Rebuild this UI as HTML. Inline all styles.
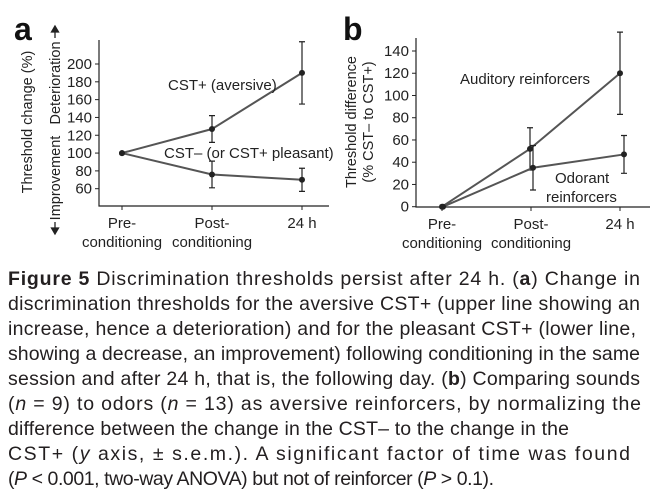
<!DOCTYPE html>
<html><head><meta charset="utf-8"><style>
html,body{margin:0;padding:0;background:#fff;}
svg{display:block;font-family:"Liberation Sans",Arial,sans-serif;}
</style></head><body>
<svg id="fig" width="667" height="491" viewBox="0 0 667 491">
<g id="pa"></g>
<g id="pb"></g>
<g id="cap" fill="#231f20" font-size="19.5"></g>
</svg>
<script>
const categories = ["Pre-|conditioning", "Post-|conditioning", "24 h"];
const aTicks = [60, 80, 100, 120, 140, 160, 180, 200];
const aAversive = [100, 127, 190];
const aAversiveErr = [0, 15, 35];
const aPleasant = [100, 76, 70];
const aPleasantErr = [0, 15, 13];
const bTicks = [0, 20, 40, 60, 80, 100, 120, 140];
const bAuditory = [0, 52, 120];
const bAuditoryErr = [0, 19, 37];
const bOdorant = [0, 35, 47];
const bOdorantErr = [0, 20, 17];

const NS = "http://www.w3.org/2000/svg";
function mk(parent, tag, attrs, text) {
  const e = document.createElementNS(NS, tag);
  for (const k in attrs) e.setAttribute(k, attrs[k]);
  if (text !== undefined) e.textContent = text;
  parent.appendChild(e);
  return e;
}
const ink = "#222";
const lineCol = "#555";

function panel(g, o) {
  const yS = v => o.y0px + (v - o.v0) * (o.y1px - o.y0px) / (o.v1 - o.v0);
  const xS = i => o.xs[0] + i * (o.xs[1] - o.xs[0]);
  const ax = mk(g, "path", {d: `M${o.axX},${o.axTop}V${o.axBot}H${o.axRight}`, stroke: ink, "stroke-width": 1.2, fill: "none"});
  
  
  o.ticks.forEach(t => {
    const y = yS(t);
    const tk = mk(g, "line", {x1: o.axX - 4, x2: o.axX, y1: y, y2: y, stroke: ink, "stroke-width": 1});
    
    
    const tl = mk(g, "text", {x: o.axX - 7, y: y + 5, "text-anchor": "end", "font-size": 15, fill: ink}, t);
    
    
  });
  categories.forEach((c, i) => {
    const x = xS(i);
    const tk = mk(g, "line", {x1: x, x2: x, y1: o.axBot, y2: o.axBot + 4, stroke: ink, "stroke-width": 1});
    
    
    c.split("|").forEach((p, j) => {
      const tl = mk(g, "text", {x: x, y: o.axBot + 22 + j * 19, "text-anchor": "middle", "font-size": 15, fill: ink}, p);
      
      
    });
  });
  o.series.forEach(s => {
    const pts = s.vals.map((v, i) => [xS(i) + s.dx[i], yS(v)]);
    const pl = mk(g, "polyline", {points: pts.map(p => p.join(",")).join(" "), fill: "none", stroke: lineCol, "stroke-width": 2});
    
    
    s.vals.forEach((v, i) => {
      const x = pts[i][0], e = s.err[i];
      if (e > 0) {
        const eb = mk(g, "path", {d: `M${x},${yS(v + e)}V${yS(v - e)}M${x - 3},${yS(v + e)}h6M${x - 3},${yS(v - e)}h6`, stroke: ink, "stroke-width": 1.2, fill: "none"});
        
        
      }
      const pt = mk(g, "circle", {cx: x, cy: yS(v), r: 3, fill: "#222"});
      
      
    });
  });
}

const pa = document.getElementById("pa");
panel(pa, {axX: 99, axTop: 40, axBot: 206, axRight: 329, v0: 60, v1: 200, y0px: 188.7, y1px: 64,
  xs: [122, 212], ticks: aTicks,
  series: [{name: "cst-plus-aversive", vals: aAversive, err: aAversiveErr, dx: [0, 0, 0]},
           {name: "cst-minus", vals: aPleasant, err: aPleasantErr, dx: [0, 0, 0]}]});
const pb = document.getElementById("pb");
panel(pb, {axX: 416, axTop: 38, axBot: 207, axRight: 650, v0: 0, v1: 140, y0px: 206.7, y1px: 51,
  xs: [442, 531], ticks: bTicks,
  series: [{name: "auditory", vals: bAuditory, err: bAuditoryErr, dx: [0, -1, 0]},
           {name: "odorant", vals: bOdorant, err: bOdorantErr, dx: [1, 2, 4]}]});

function txt(g, attrs, s, name) {
  const t = mk(g, "text", attrs, s);
  
  
  return t;
}
txt(pa, {x: 14, y: 40, "font-size": 32, "font-weight": "bold", fill: "#111"}, "a", "panel-a-letter");
txt(pa, {x: 0, y: 0, "font-size": 14.5, fill: ink, "text-anchor": "middle", transform: "translate(32,122) rotate(-90)"}, "Threshold change (%)", "y-axis-title");
txt(pa, {x: 0, y: 0, "font-size": 14.5, fill: ink, "text-anchor": "middle", transform: "translate(60,83) rotate(-90)"}, "Deterioration", "deterioration-label");
txt(pa, {x: 0, y: 0, "font-size": 14.5, fill: ink, "text-anchor": "middle", transform: "translate(60,178) rotate(-90)"}, "Improvement", "improvement-label");
mk(pa, "path", {d: "M55,26l-3.5,6h7z M55,32v6", stroke: ink, fill: ink, "stroke-width": 1.3});
mk(pa, "path", {d: "M55,234l-3.5,-6h7z M55,228v-6", stroke: ink, fill: ink, "stroke-width": 1.3});
txt(pa, {x: 168, y: 90, "font-size": 15, fill: ink}, "CST+ (aversive)", "aversive-series-label");
txt(pa, {x: 164, y: 158, "font-size": 15, fill: ink}, "CST\u2013 (or CST+ pleasant)", "pleasant-series-label");
txt(pb, {x: 343, y: 40, "font-size": 32, "font-weight": "bold", fill: "#111"}, "b", "panel-b-letter");
txt(pb, {x: 0, y: 0, "font-size": 14.5, fill: ink, "text-anchor": "middle", transform: "translate(356,122) rotate(-90)"}, "Threshold difference", "y-axis-title");
txt(pb, {x: 0, y: 0, "font-size": 14.5, fill: ink, "text-anchor": "middle", transform: "translate(373,122) rotate(-90)"}, "(% CST\u2013 to CST+)", "y-axis-subtitle");
txt(pb, {x: 460, y: 84, "font-size": 15, fill: ink}, "Auditory reinforcers", "auditory-series-label");
txt(pb, {x: 555, y: 183, "font-size": 15, fill: ink}, "Odorant", "odorant-series-label");
txt(pb, {x: 546, y: 202, "font-size": 15, fill: ink}, "reinforcers", "odorant-series-label-2");

const cap = document.getElementById("cap");
const lines = [
  [["Figure 5", "b"], ["  Discrimination thresholds persist after 24 h. (", ""], ["a", "b"], [") Change in", ""]],
  [["discrimination thresholds for the aversive CST+ (upper line showing an", ""]],
  [["increase, hence a deterioration) and for the pleasant CST+ (lower line,", ""]],
  [["showing a decrease, an improvement) following conditioning in the same", ""]],
  [["session and after 24 h, that is, the following day. (", ""], ["b", "b"], [") Comparing sounds", ""]],
  [["(", ""], ["n", "i"], [" = 9) to odors (", ""], ["n", "i"], [" = 13) as aversive reinforcers, by normalizing the", ""]],
  [["difference between the change in the CST\u2013 to the change in the", ""]],
  [["CST+ (", ""], ["y", "i"], [" axis, \u00b1 s.e.m.). A significant factor of time was found", ""]],
  [["(", ""], ["P", "i"], [" < 0.001, two-way ANOVA) but not of reinforcer (", ""], ["P", "i"], [" > 0.1).", ""]]
];
const widths = [632, 632, 628, 632, 632, 633, 561, 622, 486];
lines.forEach((ln, i) => {
  const t = mk(cap, "text", {x: 8, y: 285 + i * 25, textLength: widths[i], lengthAdjust: "spacing", "xml:space": "preserve"});
  
  
  ln.forEach(([s, st]) => {
    const sp = mk(t, "tspan", {}, s);
    if (st === "b") sp.setAttribute("font-weight", "bold");
    if (st === "i") sp.setAttribute("font-style", "italic");
  });
});
</script>
</body></html>
